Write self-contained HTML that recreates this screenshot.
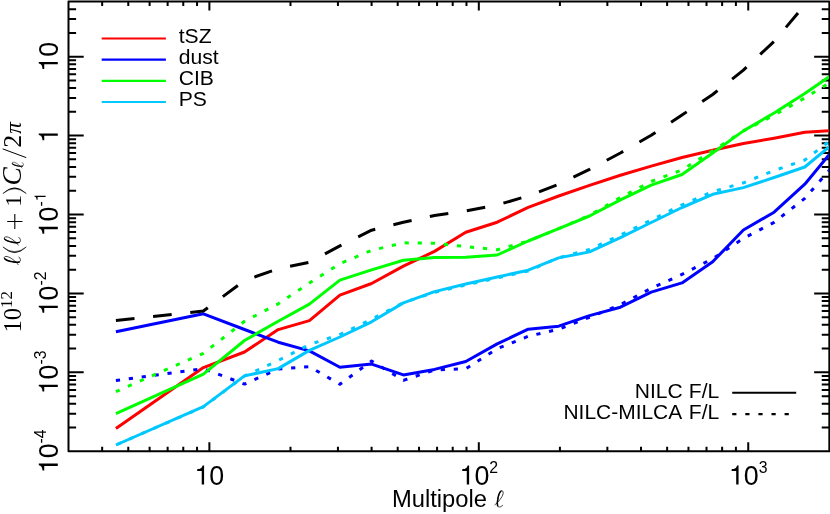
<!DOCTYPE html>
<html><head><meta charset="utf-8"><title>plot</title>
<style>
html,body{margin:0;padding:0;background:#fff;}
body{width:830px;height:514px;overflow:hidden;}
svg{display:block;will-change:transform;}
text{font-family:"Liberation Sans",sans-serif;fill:#000;}
.ser{font-family:"Liberation Serif",serif;}
</style></head><body>
<svg width="830" height="514" viewBox="0 0 830 514">
<rect x="0" y="0" width="830" height="514" fill="#fff"/>
<defs><clipPath id="cp"><rect x="69.5" y="2.5" width="759.35" height="447.80"/></clipPath>
<path id="one" d="M0.359,0 L0.271,0 L0.271,-0.505 L0.101,-0.505 L0.101,-0.568 C0.235,-0.582 0.278,-0.614 0.301,-0.709 L0.359,-0.709 Z"/>
<g id="ell" fill="none" stroke="#000" stroke-linecap="round" stroke-linejoin="round">
<path d="M0,-2.5 C3.3,-5 7.3,-10 8.1,-13.5 C8.5,-16 7.3,-16.8 6.3,-16.5 C4.8,-15.5 3.3,-11 2.8,-8 C2.3,-5.5 2.1,-3 2.6,-1.5 C3.1,-0.2 4.3,0 5.3,-0.3 C6.3,-0.7 7.1,-1.3 7.6,-1.8" stroke-width="0.75"/>
<path d="M5.9,-16.0 C4.6,-15 3.3,-11 2.8,-8 C2.3,-5.5 2.1,-3 2.6,-1.5" stroke-width="1.5"/>
</g>
</defs>

<g stroke="#000" stroke-width="2" fill="none" stroke-linecap="butt" stroke-linejoin="round">
<rect x="68.5" y="1.5" width="760.85" height="449.80"/>
<path d="M102.16,451.3 v-4.5 M102.16,1.5 v4.5"/>
<path d="M128.27,451.3 v-4.5 M128.27,1.5 v4.5"/>
<path d="M149.61,451.3 v-4.5 M149.61,1.5 v4.5"/>
<path d="M167.64,451.3 v-4.5 M167.64,1.5 v4.5"/>
<path d="M183.27,451.3 v-4.5 M183.27,1.5 v4.5"/>
<path d="M197.05,451.3 v-4.5 M197.05,1.5 v4.5"/>
<path d="M209.38,451.3 v-9.0 M209.38,1.5 v9.0"/>
<path d="M290.49,451.3 v-4.5 M290.49,1.5 v4.5"/>
<path d="M337.93,451.3 v-4.5 M337.93,1.5 v4.5"/>
<path d="M371.59,451.3 v-4.5 M371.59,1.5 v4.5"/>
<path d="M397.70,451.3 v-4.5 M397.70,1.5 v4.5"/>
<path d="M419.04,451.3 v-4.5 M419.04,1.5 v4.5"/>
<path d="M437.08,451.3 v-4.5 M437.08,1.5 v4.5"/>
<path d="M452.70,451.3 v-4.5 M452.70,1.5 v4.5"/>
<path d="M466.48,451.3 v-4.5 M466.48,1.5 v4.5"/>
<path d="M478.81,451.3 v-9.0 M478.81,1.5 v9.0"/>
<path d="M559.92,451.3 v-4.5 M559.92,1.5 v4.5"/>
<path d="M607.36,451.3 v-4.5 M607.36,1.5 v4.5"/>
<path d="M641.03,451.3 v-4.5 M641.03,1.5 v4.5"/>
<path d="M667.14,451.3 v-4.5 M667.14,1.5 v4.5"/>
<path d="M688.47,451.3 v-4.5 M688.47,1.5 v4.5"/>
<path d="M706.51,451.3 v-4.5 M706.51,1.5 v4.5"/>
<path d="M722.13,451.3 v-4.5 M722.13,1.5 v4.5"/>
<path d="M735.91,451.3 v-4.5 M735.91,1.5 v4.5"/>
<path d="M748.24,451.3 v-9.0 M748.24,1.5 v9.0"/>
<path d="M68.5,427.54 h7.6 M829.35,427.54 h-7.6"/>
<path d="M68.5,413.64 h7.6 M829.35,413.64 h-7.6"/>
<path d="M68.5,403.78 h7.6 M829.35,403.78 h-7.6"/>
<path d="M68.5,396.13 h7.6 M829.35,396.13 h-7.6"/>
<path d="M68.5,389.88 h7.6 M829.35,389.88 h-7.6"/>
<path d="M68.5,384.60 h7.6 M829.35,384.60 h-7.6"/>
<path d="M68.5,380.02 h7.6 M829.35,380.02 h-7.6"/>
<path d="M68.5,375.98 h7.6 M829.35,375.98 h-7.6"/>
<path d="M68.5,372.37 h15.2 M829.35,372.37 h-15.2"/>
<path d="M68.5,348.61 h7.6 M829.35,348.61 h-7.6"/>
<path d="M68.5,334.72 h7.6 M829.35,334.72 h-7.6"/>
<path d="M68.5,324.85 h7.6 M829.35,324.85 h-7.6"/>
<path d="M68.5,317.21 h7.6 M829.35,317.21 h-7.6"/>
<path d="M68.5,310.96 h7.6 M829.35,310.96 h-7.6"/>
<path d="M68.5,305.67 h7.6 M829.35,305.67 h-7.6"/>
<path d="M68.5,301.10 h7.6 M829.35,301.10 h-7.6"/>
<path d="M68.5,297.06 h7.6 M829.35,297.06 h-7.6"/>
<path d="M68.5,293.45 h15.2 M829.35,293.45 h-15.2"/>
<path d="M68.5,269.69 h7.6 M829.35,269.69 h-7.6"/>
<path d="M68.5,255.79 h7.6 M829.35,255.79 h-7.6"/>
<path d="M68.5,245.93 h7.6 M829.35,245.93 h-7.6"/>
<path d="M68.5,238.28 h7.6 M829.35,238.28 h-7.6"/>
<path d="M68.5,232.03 h7.6 M829.35,232.03 h-7.6"/>
<path d="M68.5,226.75 h7.6 M829.35,226.75 h-7.6"/>
<path d="M68.5,222.17 h7.6 M829.35,222.17 h-7.6"/>
<path d="M68.5,218.13 h7.6 M829.35,218.13 h-7.6"/>
<path d="M68.5,214.52 h15.2 M829.35,214.52 h-15.2"/>
<path d="M68.5,190.76 h7.6 M829.35,190.76 h-7.6"/>
<path d="M68.5,176.86 h7.6 M829.35,176.86 h-7.6"/>
<path d="M68.5,167.00 h7.6 M829.35,167.00 h-7.6"/>
<path d="M68.5,159.35 h7.6 M829.35,159.35 h-7.6"/>
<path d="M68.5,153.10 h7.6 M829.35,153.10 h-7.6"/>
<path d="M68.5,147.82 h7.6 M829.35,147.82 h-7.6"/>
<path d="M68.5,143.24 h7.6 M829.35,143.24 h-7.6"/>
<path d="M68.5,139.21 h7.6 M829.35,139.21 h-7.6"/>
<path d="M68.5,135.59 h15.2 M829.35,135.59 h-15.2"/>
<path d="M68.5,111.83 h7.6 M829.35,111.83 h-7.6"/>
<path d="M68.5,97.94 h7.6 M829.35,97.94 h-7.6"/>
<path d="M68.5,88.08 h7.6 M829.35,88.08 h-7.6"/>
<path d="M68.5,80.43 h7.6 M829.35,80.43 h-7.6"/>
<path d="M68.5,74.18 h7.6 M829.35,74.18 h-7.6"/>
<path d="M68.5,68.89 h7.6 M829.35,68.89 h-7.6"/>
<path d="M68.5,64.32 h7.6 M829.35,64.32 h-7.6"/>
<path d="M68.5,60.28 h7.6 M829.35,60.28 h-7.6"/>
<path d="M68.5,56.67 h15.2 M829.35,56.67 h-15.2"/>
<path d="M68.5,32.91 h7.6 M829.35,32.91 h-7.6"/>
<path d="M68.5,19.01 h7.6 M829.35,19.01 h-7.6"/>
<path d="M68.5,9.15 h7.6 M829.35,9.15 h-7.6"/>
</g>
<g clip-path="url(#cp)" fill="none" stroke-linejoin="round" stroke-linecap="butt">
<path d="M115.9,428.6 L203.4,367.6 L244.5,352.0 L278.2,329.6 L309.4,320.6 L339.9,295.1 L371.6,283.5 L403.4,266.1 L434.5,251.4 L465.8,232.2 L497.2,222.2 L528.2,207.3 L558.7,196.0 L589.5,185.3 L620.4,175.2 L651.2,166.1 L682.0,157.5 L712.7,150.2 L743.4,143.5 L774.1,138.2 L804.8,132.3 L835.6,130.3" stroke="#ff0000" stroke-width="3.0"/>
<path d="M115.9,331.8 L203.4,313.8 L244.5,329.5 L278.2,342.2 L309.4,350.9 L339.9,367.3 L371.6,364.1 L403.4,374.9 L434.5,369.4 L465.8,361.5 L497.2,343.9 L528.2,329.2 L558.7,326.2 L589.5,315.6 L620.4,307.2 L651.2,292.1 L682.0,282.9 L712.7,261.7 L743.4,230.0 L774.1,212.2 L804.8,184.2 L835.6,147.0" stroke="#0000ff" stroke-width="3.0"/>
<path d="M115.9,380.6 L203.4,368.6 L244.5,384.1 L278.2,369.0 L309.4,366.6 L339.9,384.3 L371.6,361.0 L403.4,380.3 L434.5,370.0 L465.8,368.7 L497.2,348.7 L528.2,336.3 L558.7,329.2 L589.5,317.3 L620.4,304.7 L651.2,288.3 L682.0,274.4 L712.7,258.7 L743.4,238.4 L774.1,222.3 L804.8,198.4 L835.6,163.0" stroke="#0000ff" stroke-width="3.0" stroke-dasharray="4.2 8.81"/>
<path d="M115.9,413.7 L203.4,374.2 L244.5,340.5 L278.2,321.3 L309.4,304.1 L339.9,280.1 L371.6,269.9 L403.4,260.3 L434.5,257.5 L465.8,257.3 L497.2,255.0 L528.2,241.0 L558.7,228.6 L589.5,216.0 L620.4,199.9 L651.2,185.2 L682.0,174.5 L712.7,153.0 L743.4,130.9 L774.1,113.0 L804.8,93.4 L835.6,72.4" stroke="#00ff00" stroke-width="3.0"/>
<path d="M115.9,391.7 L203.4,353.3 L244.5,321.3 L278.2,303.8 L309.4,283.0 L339.9,263.6 L371.6,250.4 L403.4,242.8 L434.5,243.3 L465.8,246.6 L497.2,249.8 L528.2,241.0 L558.7,228.6 L589.5,215.3 L620.4,197.4 L651.2,181.5 L682.0,169.9 L712.7,150.8 L743.4,131.0 L774.1,115.2 L804.8,98.0 L835.6,79.0" stroke="#00ff00" stroke-width="3.0" stroke-dasharray="4.2 8.9"/>
<path d="M115.9,445.0 L203.4,406.6 L244.5,375.9 L278.2,368.6 L309.4,350.4 L339.9,337.0 L371.6,321.8 L403.4,302.9 L434.5,291.6 L465.8,284.0 L497.2,277.0 L528.2,270.2 L558.7,257.9 L589.5,251.9 L620.4,237.7 L651.2,222.5 L682.0,207.5 L712.7,194.3 L743.4,187.6 L774.1,177.5 L804.8,167.0 L835.6,141.5" stroke="#00c8ff" stroke-width="3.0"/>
<path d="M115.9,445.0 L203.4,406.9 L244.5,376.0 L278.2,360.5 L309.4,344.6 L339.9,334.5 L371.6,319.3 L403.4,302.6 L434.5,292.4 L465.8,285.0 L497.2,278.0 L528.2,271.0 L558.7,257.7 L589.5,249.5 L620.4,235.0 L651.2,220.0 L682.0,204.8 L712.7,191.7 L743.4,182.8 L774.1,170.6 L804.8,160.0 L835.6,136.5" stroke="#00c8ff" stroke-width="3.0" stroke-dasharray="4.2 8.9" stroke-dashoffset="-1.6"/>
<path d="M115.9,320.4 L203.4,311.0 L244.5,280.5 L278.2,268.8 L309.4,262.3 L339.9,245.9 L371.6,230.2 L403.4,222.2 L434.5,215.5 L465.8,210.9 L497.2,205.0 L528.2,195.9 L558.7,184.3 L589.5,169.4 L620.4,153.0 L651.2,135.3 L682.0,115.0 L712.7,94.5 L743.4,70.1 L774.1,41.4 L804.8,5.0 L835.6,-32.0" stroke="#000" stroke-width="3.0" stroke-dasharray="18.7 18.7"/>
</g>
<g transform="translate(194.45,484.6)"><use href="#one" transform="translate(0.00,0) scale(26.85)"/><text x="14.93" y="0" font-size="26.85">0</text></g>
<g transform="translate(459.49,484.6)"><use href="#one" transform="translate(0.00,0) scale(26.85)"/><text x="14.93" y="0" font-size="26.85">0</text><text x="29.86" y="-11.9" font-size="15.8">2</text></g>
<g transform="translate(728.92,484.6)"><use href="#one" transform="translate(0.00,0) scale(26.85)"/><text x="14.93" y="0" font-size="26.85">0</text><text x="29.86" y="-11.9" font-size="15.8">3</text></g>
<g transform="translate(57.8,71.60) rotate(-90)"><use href="#one" transform="translate(0.00,0) scale(26.85)"/><text x="14.93" y="0" font-size="26.85">0</text></g>
<g transform="translate(57.8,143.06) rotate(-90)"><use href="#one" transform="translate(0.00,0) scale(26.85)"/></g>
<g transform="translate(57.8,236.47) rotate(-90)"><use href="#one" transform="translate(0.00,0) scale(26.85)"/><text x="14.93" y="0" font-size="26.85">0</text><text x="29.86" y="-12.2" font-size="15.8">-</text><use href="#one" transform="translate(35.12,-12.2) scale(15.8)"/></g>
<g transform="translate(57.8,315.40) rotate(-90)"><use href="#one" transform="translate(0.00,0) scale(26.85)"/><text x="14.93" y="0" font-size="26.85">0</text><text x="29.86" y="-12.2" font-size="15.8">-</text><text x="35.12" y="-12.2" font-size="15.8">2</text></g>
<g transform="translate(57.8,394.33) rotate(-90)"><use href="#one" transform="translate(0.00,0) scale(26.85)"/><text x="14.93" y="0" font-size="26.85">0</text><text x="29.86" y="-12.2" font-size="15.8">-</text><text x="35.12" y="-12.2" font-size="15.8">3</text></g>
<g transform="translate(57.8,473.25) rotate(-90)"><use href="#one" transform="translate(0.00,0) scale(26.85)"/><text x="14.93" y="0" font-size="26.85">0</text><text x="29.86" y="-12.2" font-size="15.8">-</text><text x="35.12" y="-12.2" font-size="15.8">4</text></g>
<text transform="translate(391.9,507) scale(0.998,1)" font-size="23.8">Multipole</text>
<use href="#ell" transform="translate(495.0,507.2) scale(1.0)"/>
<text class="ser" transform="translate(21.3,332.56) rotate(-90) scale(1.0,1)" font-size="24.6">1</text>
<text class="ser" transform="translate(21.3,320.16) rotate(-90) scale(1.0,1)" font-size="24.6">0</text>
<text class="ser" transform="translate(11.9,307.88) rotate(-90) scale(1.0,1)" font-size="16.8">1</text>
<text class="ser" transform="translate(11.9,299.48) rotate(-90) scale(1.0,1)" font-size="16.8">2</text>
<use href="#ell" transform="translate(20.7,264.6) rotate(-90) scale(1.0)"/>
<use href="#ell" transform="translate(20.7,245.0) rotate(-90) scale(1.0)"/>
<path d="M2.9,246.95 Q14.6,258.35 26.3,246.95 Q14.6,256.35 2.9,246.95 Z" fill="#000" stroke="#000" stroke-width="0.5" stroke-linejoin="round"/>
<path d="M2.9,193.55 Q14.6,182.15 26.3,193.55 Q14.6,184.15 2.9,193.55 Z" fill="#000" stroke="#000" stroke-width="0.5" stroke-linejoin="round"/>
<path d="M14.8,229.0 V214.0 M7.2,221.5 H22.4" stroke="#000" stroke-width="1.1" fill="none"/>
<text class="ser" transform="translate(21.3,206.71) rotate(-90) scale(1.0,1)" font-size="24.0">1</text>
<text class="ser" transform="translate(21.2,185.54) rotate(-90) scale(1.0,1)" font-size="27.5" font-style="italic">C</text>
<use href="#ell" transform="translate(23.6,167.9) rotate(-90) scale(0.7)"/>
<path d="M25.9,157.5 L3.0,149.0" stroke="#000" stroke-width="1.0" fill="none" stroke-linecap="round"/>
<text class="ser" transform="translate(21.3,147.84) rotate(-90) scale(1.0,1)" font-size="26.0">2</text>
<text class="ser" transform="translate(21.3,133.72) rotate(-90) scale(1.0,1)" font-size="23.2" font-style="italic">π</text>
<path d="M101.7,38.5 H165.9" stroke="#ff0000" stroke-width="2.2" fill="none"/>
<text transform="translate(178.7,42.7) scale(1.025,1)" font-size="20.6">tSZ</text>
<path d="M101.7,59.6 H165.9" stroke="#0000ff" stroke-width="2.2" fill="none"/>
<text transform="translate(178.7,63.9) scale(1.025,1)" font-size="20.6">dust</text>
<path d="M101.7,80.8 H165.9" stroke="#00ff00" stroke-width="2.2" fill="none"/>
<text transform="translate(178.7,85.0) scale(1.025,1)" font-size="20.6">CIB</text>
<path d="M101.7,102.0 H165.9" stroke="#00c8ff" stroke-width="2.2" fill="none"/>
<text transform="translate(178.7,106.2) scale(1.025,1)" font-size="20.6">PS</text>
<text transform="translate(719.2,397.8) scale(1.028,1)" font-size="20.5" text-anchor="end">F/L</text>
<text transform="translate(719.2,418.8) scale(1.028,1)" font-size="20.5" text-anchor="end">F/L</text>
<text transform="translate(682.7,397.8) scale(1.028,1)" font-size="20.5" text-anchor="end">NILC</text>
<text transform="translate(682.2,418.8) scale(1.022,1)" font-size="20.5" text-anchor="end">NILC-MILCA</text>
<path d="M732.2,392.7 H796.2" stroke="#000" stroke-width="2" fill="none"/>
<path d="M732.2,414.1 H796.2" stroke="#000" stroke-width="2.2" fill="none" stroke-dasharray="4.2 8.9"/>
</svg></body></html>
